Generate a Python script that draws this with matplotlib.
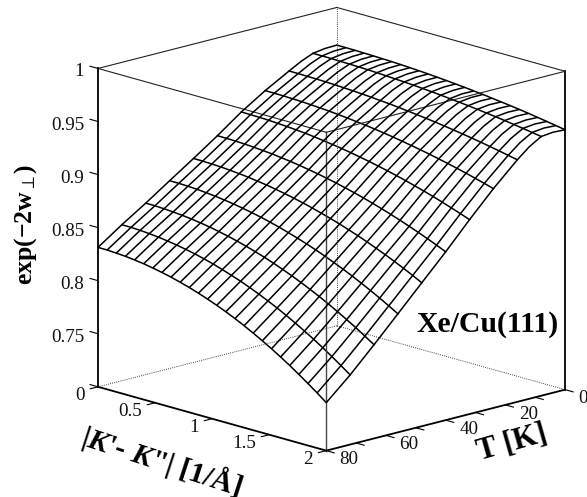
import numpy as np
import matplotlib
matplotlib.use('Agg')
import matplotlib.pyplot as plt

plt.rcParams['font.family'] = ['Liberation Serif', 'DejaVu Sans']
plt.rcParams['mathtext.fontset'] = 'custom'
plt.rcParams['mathtext.rm'] = 'Liberation Serif'
plt.rcParams['mathtext.it'] = 'Liberation Serif:italic'
plt.rcParams['mathtext.bf'] = 'Liberation Serif:bold'
plt.rcParams['mathtext.bfit'] = 'Liberation Serif:italic:bold'
plt.rcParams['mathtext.fallback'] = 'stix'

# grid of the surface, T=4 and T=12 only round off the shoulder of the long lines
T_vals = [0, 4, 8, 12, 16, 24, 32, 40, 48, 56, 64, 72, 80]
T_mesh = [0, 8, 16, 24, 32, 40, 48, 56, 64, 72, 80]
K_vals = [0, 0.08, 0.16, 0.24, 0.32, 0.4, 0.48, 0.56, 0.64, 0.72, 0.8, 0.88, 0.96,
          1.04, 1.12, 1.2, 1.28, 1.36, 1.44, 1.52, 1.6, 1.68, 1.76, 1.84, 1.92, 2]

# values, one list per temperature
z_T0 = [.9645, .9645, .9644, .9642, .9640, .9637, .9634, .9630, .9625, .9620, .9614, .9607, .9600,
        .9592, .9584, .9574, .9565, .9554, .9543, .9532, .9520, .9507, .9493, .9479, .9464, .9449]
z_T4 = [.9642, .9642, .9641, .9639, .9637, .9635, .9631, .9627, .9623, .9618, .9612, .9606, .9599,
        .9591, .9583, .9575, .9565, .9556, .9545, .9534, .9522, .9510, .9497, .9484, .9470, .9455]
z_T8 = [.9625, .9625, .9624, .9622, .9620, .9618, .9615, .9611, .9606, .9601, .9596, .9590, .9583,
        .9576, .9568, .9559, .9550, .9541, .9531, .9520, .9509, .9497, .9484, .9471, .9457, .9443]
z_T12 = [.9578, .9578, .9577, .9575, .9573, .9570, .9566, .9562, .9557, .9552, .9546, .9539, .9531,
         .9523, .9514, .9505, .9495, .9484, .9473, .9461, .9448, .9435, .9421, .9406, .9391, .9375]
z_T16 = [.9516, .9516, .9514, .9513, .9510, .9507, .9502, .9498, .9492, .9486, .9478, .9471, .9462,
         .9452, .9442, .9431, .9420, .9407, .9394, .9380, .9366, .9350, .9334, .9317, .9299, .9281]
z_T24 = [.9389, .9388, .9387, .9384, .9381, .9376, .9370, .9364, .9356, .9347, .9337, .9327, .9315,
         .9302, .9288, .9273, .9257, .9240, .9222, .9203, .9183, .9162, .9140, .9116, .9092, .9067]
z_T32 = [.9245, .9244, .9242, .9239, .9234, .9228, .9221, .9213, .9203, .9191, .9179, .9165, .9150,
         .9133, .9115, .9096, .9076, .9054, .9031, .9006, .8981, .8954, .8925, .8895, .8864, .8832]
z_T40 = [.9079, .9078, .9076, .9072, .9066, .9059, .9051, .9040, .9029, .9015, .9000, .8984, .8965,
         .8946, .8924, .8902, .8877, .8851, .8823, .8794, .8763, .8731, .8697, .8662, .8625, .8586]
z_T48 = [.8922, .8921, .8918, .8914, .8907, .8899, .8889, .8877, .8864, .8848, .8831, .8812, .8791,
         .8768, .8743, .8717, .8689, .8658, .8627, .8593, .8557, .8520, .8481, .8440, .8397, .8352]
z_T56 = [.8770, .8769, .8766, .8761, .8753, .8744, .8732, .8719, .8703, .8685, .8666, .8644, .8620,
         .8593, .8565, .8535, .8503, .8468, .8431, .8393, .8352, .8309, .8264, .8217, .8168, .8117]
z_T64 = [.8616, .8615, .8611, .8605, .8597, .8587, .8574, .8559, .8541, .8521, .8499, .8474, .8447,
         .8418, .8386, .8352, .8316, .8277, .8236, .8193, .8147, .8099, .8048, .7996, .7940, .7883]
z_T72 = [.8470, .8469, .8465, .8458, .8449, .8437, .8423, .8406, .8387, .8365, .8340, .8312, .8282,
         .8250, .8215, .8177, .8137, .8094, .8048, .8000, .7949, .7896, .7840, .7781, .7720, .7656]
z_T80 = [.8314, .8313, .8308, .8302, .8292, .8280, .8264, .8246, .8226, .8202, .8176, .8147, .8115,
         .8081, .8044, .8004, .7961, .7915, .7867, .7816, .7762, .7706, .7646, .7584, .7520, .7452]

K_ticks = [0, 0.5, 1, 1.5, 2]
K_labels = ['0', '0.5', '1', '1.5', '2']
T_ticks = [0, 10, 20, 30, 40, 50, 60, 70, 80]
T_labeled = [0, 20, 40, 60, 80]
T_labels = ['0', '20', '40', '60', '80']
z_ticks = [0.7, 0.75, 0.8, 0.85, 0.9, 0.95, 1]
z_labeled = [0.75, 0.8, 0.85, 0.9, 0.95, 1]
z_labels = ['0.75', '0.8', '0.85', '0.9', '0.95', '1']

Z = np.array([z_T0, z_T4, z_T8, z_T12, z_T16, z_T24, z_T32, z_T40, z_T48, z_T56, z_T64, z_T72, z_T80])
K_grid, T_grid = np.meshgrid(K_vals, T_vals)

T0, T1 = 0, 80
K0, K1 = 0, 2
z0, z1 = 0.7, 1

fig = plt.figure(figsize=(5.87, 4.97), dpi=100)
# square axes, sized so the box edges land where they are in the picture
ax = fig.add_axes([46.3 / 587, -17.3 / 497, 555.5 / 587, 555.5 / 497], projection='3d')
ax.set_proj_type('ortho')
ax.view_init(elev=15.5, azim=46.3)
ax.set_box_aspect((1, 1, 1))
ax.set_xlim(T0, T1)
ax.set_ylim(K0, K1)
ax.set_zlim(z0, z1)
ax.set_xticks([])
ax.set_yticks([])
ax.set_zticks([])
ax.set_axis_off()
ax.patch.set_alpha(0)

# long lines at constant K, cross lines only at the mesh temperatures
ax.plot_wireframe(T_grid, K_grid, Z, rstride=0, cstride=1, color='k', linewidth=1.1)
for i, t in enumerate(T_vals):
    if t in T_mesh:
        ax.plot([t] * len(K_vals), K_vals, Z[i], color='k', linewidth=1.1)

# box: x is T, y is K
thin = dict(color='#222222', linewidth=0.8)
thick = dict(color='k', linewidth=1.3)
dots = dict(color='#444444', linewidth=0.7, linestyle=(0, (1, 1.2)))

ax.plot([T1, T1], [K0, K0], [z0, z1], **thick)
ax.plot([T0, T0], [K1, K1], [z0, z1], **thick)
ax.plot([T1, T1], [K1, K1], [z0, z1], color='#444444', linewidth=1.0)
ax.plot([T1, T1], [K0, K1], [z0, z0], **thick)
ax.plot([T0, T1], [K1, K1], [z0, z0], **thick)
ax.plot([T1, T1], [K0, K1], [z1, z1], **thin)
ax.plot([T0, T1], [K1, K1], [z1, z1], **thin)
ax.plot([T0, T1], [K0, K0], [z1, z1], **thin)
ax.plot([T0, T0], [K0, K1], [z1, z1], **thin)
ax.plot([T0, T0], [K0, K0], [z0, z1], **dots)
ax.plot([T0, T1], [K0, K0], [z0, z0], **dots)
ax.plot([T0, T0], [K0, K1], [z0, z0], **dots)

# ticks
for k in K_ticks:
    ax.plot([T1, T1 + 2.6], [k, k], [z0, z0], color='k', linewidth=0.8)
for t in T_ticks:
    ax.plot([t, t], [K1, K1 + 0.07], [z0, z0], color='k', linewidth=0.8)
for z in z_ticks:
    ax.plot([T1, T1], [K0, K0 - 0.07], [z, z], color='k', linewidth=0.8)

# tick labels
fs = 13.7
for k, lab in zip(K_ticks, K_labels):
    ax.text(T1 + 4.5, k, z0 - 0.0053, lab, ha='right', va='center', fontsize=fs, color='#111111')
for t, lab in zip(T_labeled, T_labels):
    ax.text(t, K1 + 0.118, z0 - 0.0052, lab, ha='left', va='center', fontsize=fs, color='#111111')
for z, lab in zip(z_labeled, z_labels):
    ax.text(T1, K0 - 0.122, z - 0.007, lab, ha='right', va='center', fontsize=fs, color='#111111')

# axis labels
fig.text(162 / 587, 1 - 461 / 497, "|$\\mathbfit{K}$'- $\\mathbfit{K}$\"| [1/Å]",
         fontsize=21.5, fontweight='bold', rotation=-18, ha='center', va='center', rotation_mode='anchor')
fig.text(512 / 587, 1 - 443 / 497, 'T [K]', fontsize=22, fontweight='bold', rotation=16,
         ha='center', va='center', rotation_mode='anchor')
fig.text(26 / 587, 1 - 224 / 497, "exp(\u22122w$_{\\perp}$)", fontsize=18.5, fontweight='bold', rotation=90,
         ha='center', va='center', rotation_mode='anchor')
fig.text(488 / 587, 1 - 325 / 497, 'Xe/Cu(111)', fontsize=21.4, fontweight='bold', ha='center', va='center')

fig.savefig('out.png', dpi=100)
